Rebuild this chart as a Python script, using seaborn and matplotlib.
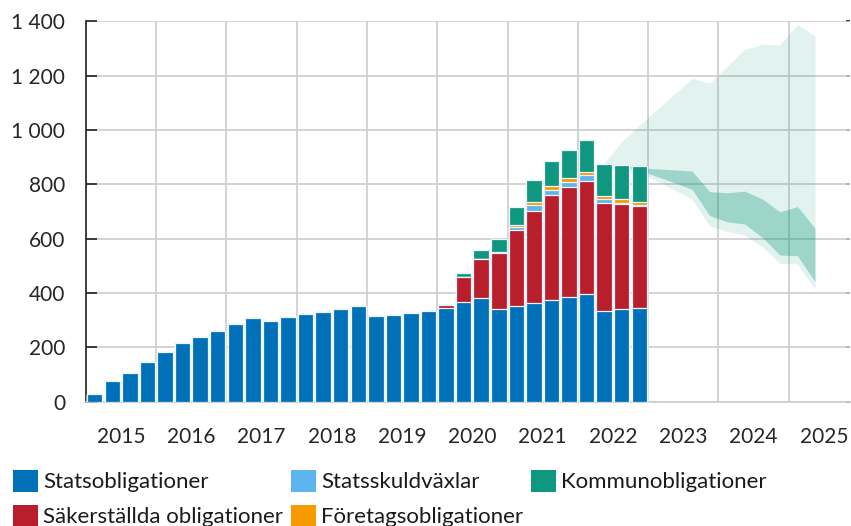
import numpy as np
import pandas as pd
import seaborn as sns
import matplotlib.pyplot as plt
from matplotlib.patches import Patch
from matplotlib.ticker import FixedLocator, FuncFormatter

# ---------------- data ----------------
quarters = [f"{y}Q{q}" for y in range(2015, 2023) for q in range(1, 5)]

statsobligationer = [27, 77, 107, 146, 182, 216, 237, 261, 286, 307, 296, 311,
                     322, 331, 340, 351, 317, 319, 325, 335, 344, 366, 380, 340,
                     352, 364, 374, 384, 396, 333, 340, 345]
sakerstallda = [0] * 20 + [11, 94, 146, 208, 280, 339, 386, 405, 416, 399, 386, 375]
statsskuldvaxlar = [0] * 24 + [10, 20, 20, 21, 21, 13, 5, 4]
foretagsobligationer = [0] * 23 + [3, 7, 12, 13, 12, 12, 11, 14, 10]
kommunobligationer = [0] * 21 + [15, 31, 47, 69, 82, 92, 104, 117, 120, 125, 132]

# forecast fan, quarters 2022Q2 .. 2025Q2
fan_quarters = ["2022Q2", "2022Q3", "2022Q4", "2023Q1", "2023Q2", "2023Q3", "2023Q4",
                "2024Q1", "2024Q2", "2024Q3", "2024Q4", "2025Q1", "2025Q2"]
outer_upper = [877, 957, 1018, 1075, 1132, 1190, 1172, 1235, 1297, 1315, 1313, 1389, 1346]
inner_upper = [877, 868, 861, 857, 853, 849, 773, 769, 775, 746, 699, 718, 638]
inner_lower = [877, 866, 852, 829, 806, 782, 685, 662, 654, 605, 540, 537, 442]
outer_lower = [877, 862, 845, 812, 779, 745, 647, 626, 613, 570, 509, 507, 414]

year_labels = [str(y) for y in range(2015, 2026)]
y_ticks = [0, 200, 400, 600, 800, 1000, 1200, 1400]

series = [
    ("Statsobligationer", statsobligationer, "#0070B8"),
    ("Säkerställda obligationer", sakerstallda, "#B81E2C"),
    ("Statsskuldväxlar", statsskuldvaxlar, "#5DB5F0"),
    ("Företagsobligationer", foretagsobligationer, "#F59B00"),
    ("Kommunobligationer", kommunobligationer, "#0F977F"),
]

# ---------------- style ----------------
sns.set_theme(style="white")
plt.rcParams['font.family'] = ['Lato', 'DejaVu Sans']
plt.rcParams['text.color'] = '#1a1a1a'

def qpos(q):
    y, n = q.split("Q")
    return (int(y) - 2015) * 4 + int(n) - 0.5

fig = plt.figure(figsize=(8.51, 5.26), dpi=100)
ax = fig.add_axes([0.101, 0.2363, 0.898, 0.7232])

pos = np.array([qpos(q) for q in quarters])
cum = np.zeros(len(quarters))
layers = []
for name, vals, col in series:
    cum = cum + np.array(vals, dtype=float)
    layers.append((name, cum.copy(), col))

# draw from the top layer down so that lower segments overlay
for name, c, col in reversed(layers):
    d = pd.DataFrame({"pos": pos, "val": c})
    sns.barplot(data=d, x="pos", y="val", native_scale=True, width=0.88,
                color=col, saturation=1, errorbar=None, edgecolor="#eef4fa",
                linewidth=0.9, ax=ax, zorder=3)

# forecast fan
fpos = np.array([qpos(q) for q in fan_quarters])
teal = "#10987F"
ax.fill_between(fpos, outer_lower, outer_upper, color=teal, alpha=0.12,
                linewidth=0, zorder=1)
ax.fill_between(fpos, inner_lower, inner_upper, color=teal, alpha=0.32,
                linewidth=0, zorder=1.1)

# axes
ax.set_xlim(0, 43.5)
ax.set_ylim(0, 1400)
ax.set_xlabel("")
ax.set_ylabel("")
ax.xaxis.set_major_locator(FixedLocator(np.arange(0, 44, 4)))
ax.xaxis.set_minor_locator(FixedLocator(np.arange(2, 44, 4)))
ax.set_xticklabels([])
ax.set_xticklabels(year_labels, minor=True)
ax.tick_params(axis="x", which="both", length=0, labelsize=15, pad=18)
ax.set_yticks(y_ticks)
ax.yaxis.set_major_formatter(FuncFormatter(lambda v, p: f"{int(v):,}".replace(",", " ")))
ax.tick_params(axis="y", direction="in", length=8, width=1.2, color="#222222",
               labelsize=15, pad=15, left=True)

ax.grid(True, which="major", axis="both", color="#cccccc", linewidth=1.2, zorder=0)
ax.set_axisbelow(True)
for s in ["top", "right"]:
    ax.spines[s].set_visible(False)
ax.spines["left"].set_color("#222222")
ax.spines["left"].set_linewidth(1.2)
ax.spines["bottom"].set_color("#cccccc")
ax.spines["bottom"].set_linewidth(1.2)

sec = ax.secondary_yaxis("right")
sec.set_yticks(y_ticks)
sec.tick_params(direction="in", length=3, width=1.2, color="#222222", labelright=False)
sec.spines["right"].set_visible(False)

# legend
order = [0, 1, 2, 3, 4]
handles = [Patch(facecolor=series[i][2], edgecolor="none") for i in order]
labels = [series[i][0] for i in order]
fig.legend(handles, labels, loc="upper left", bbox_to_anchor=(0.0153, 0.1065),
           ncol=3, frameon=False, fontsize=16, handlelength=1.13, handleheight=1.13,
           handletextpad=0.22, columnspacing=0.36, labelspacing=0.57,
           borderpad=0, borderaxespad=0)

fig.savefig("out.png", dpi=100)
